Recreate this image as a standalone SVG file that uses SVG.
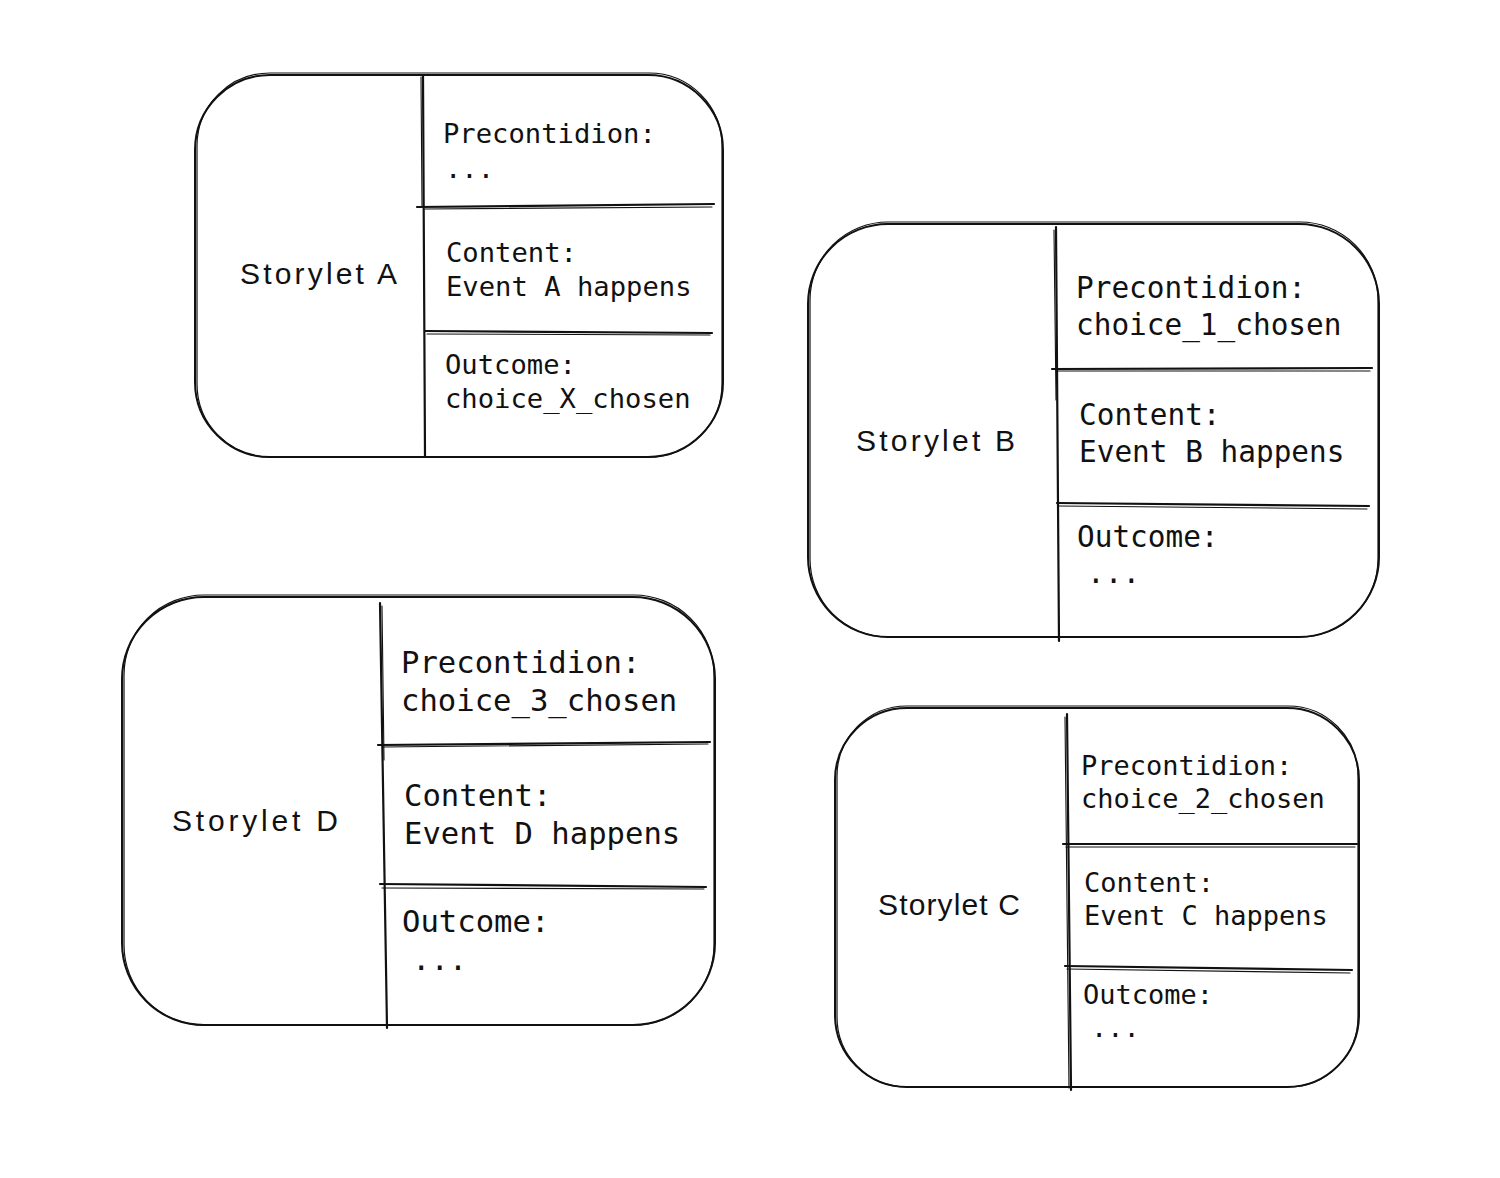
<svg xmlns="http://www.w3.org/2000/svg" width="1500" height="1178" viewBox="0 0 1500 1178">
<style>
.bg{fill:#ffffff}
.box{fill:none;stroke:#111111;stroke-width:2;stroke-linecap:round}
.box2{fill:none;stroke:#111111;stroke-width:1.2;stroke-linecap:round}
.ln{fill:none;stroke:#111111;stroke-width:2.2;stroke-linecap:round}
.ln2{fill:none;stroke:#111111;stroke-width:1.1;stroke-linecap:round}
.mono{font-family:"DejaVu Sans Mono","Liberation Mono",monospace;fill:#111111}
.hand{font-family:"Liberation Sans","DejaVu Sans",sans-serif;fill:#111111;font-size:30px}
</style>
<rect class="bg" x="0" y="0" width="1500" height="1178"/>

<g id="storylet-a">
<rect class="box" x="195" y="75" width="528" height="382" rx="75" ry="75"/>
<rect class="box2" x="197" y="73" width="525" height="384" rx="73" ry="73"/>
<path class="ln" d="M423 75 L425 457"/>
<path class="ln2" d="M421 77 L422 206"/>
<path class="ln" d="M417 207 L714 204"/>
<path class="ln2" d="M425 209 L712 207"/>
<path class="ln" d="M425 331 L712 333"/>
<path class="ln2" d="M427 334 L710 335"/>
<text class="hand" x="240" y="284" textLength="157">Storylet A</text>
<g class="mono" font-size="27.2">
<text x="443" y="143">Precontidion:</text>
<text x="445" y="178">...</text>
<text x="446" y="262">Content:</text>
<text x="446" y="296">Event A happens</text>
<text x="445" y="374">Outcome:</text>
<text x="445" y="408">choice_X_chosen</text>
</g>
</g>

<g id="storylet-b">
<rect class="box" x="808" y="224" width="571" height="413" rx="80" ry="80"/>
<rect class="box2" x="810" y="222" width="568" height="415" rx="78" ry="78"/>
<path class="ln" d="M1056 227 L1059 641"/>
<path class="ln2" d="M1054 230 L1056 400"/>
<path class="ln" d="M1052 369 L1372 368"/>
<path class="ln2" d="M1056 371 L1370 371"/>
<path class="ln" d="M1057 503 L1369 506"/>
<path class="ln2" d="M1059 506 L1367 509"/>
<text class="hand" x="856" y="451" textLength="159">Storylet B</text>
<g class="mono" font-size="29.4">
<text x="1076" y="298">Precontidion:</text>
<text x="1076" y="335">choice_1_chosen</text>
<text x="1079" y="425">Content:</text>
<text x="1079" y="462">Event B happens</text>
<text x="1077" y="547">Outcome:</text>
<text x="1087" y="583">...</text>
</g>
</g>

<g id="storylet-d">
<rect class="box" x="122" y="597" width="593" height="428" rx="82" ry="82"/>
<rect class="box2" x="124" y="595" width="590" height="430" rx="80" ry="80"/>
<path class="ln" d="M380 603 L387 1028"/>
<path class="ln2" d="M382 606 L384 760"/>
<path class="ln" d="M378 745 L710 742"/>
<path class="ln2" d="M382 747 L708 744"/>
<path class="ln" d="M380 884 L706 887"/>
<path class="ln2" d="M382 888 L704 889"/>
<text class="hand" x="172" y="831" textLength="166">Storylet D</text>
<g class="mono" font-size="30.6">
<text x="401" y="673">Precontidion:</text>
<text x="401" y="711">choice_3_chosen</text>
<text x="404" y="806">Content:</text>
<text x="404" y="844">Event D happens</text>
<text x="402" y="932">Outcome:</text>
<text x="412" y="970">...</text>
</g>
</g>

<g id="storylet-c">
<rect class="box" x="835" y="708" width="524" height="379" rx="72" ry="72"/>
<rect class="box2" x="837" y="706" width="521" height="381" rx="70" ry="70"/>
<path class="ln" d="M1067 714 L1071 1090"/>
<path class="ln2" d="M1065 717 L1069 1088"/>
<path class="ln" d="M1063 844 L1357 844"/>
<path class="ln2" d="M1066 847 L1355 847"/>
<path class="ln" d="M1065 966 L1352 970"/>
<path class="ln2" d="M1067 969 L1350 973"/>
<text class="hand" x="878" y="915" textLength="142">Storylet C</text>
<g class="mono" font-size="27">
<text x="1081" y="775">Precontidion:</text>
<text x="1081" y="808">choice_2_chosen</text>
<text x="1084" y="892">Content:</text>
<text x="1084" y="925">Event C happens</text>
<text x="1083" y="1004">Outcome:</text>
<text x="1091" y="1037">...</text>
</g>
</g>

<g id="connectors"></g>
</svg>
